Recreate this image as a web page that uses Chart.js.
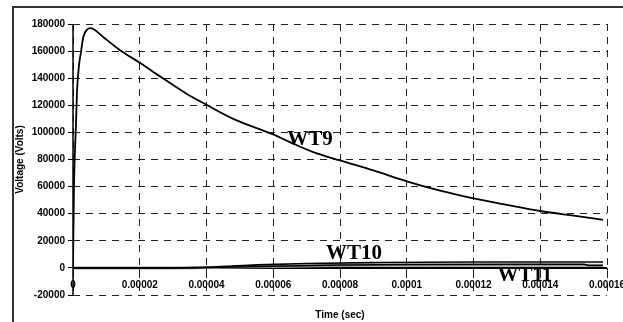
<!DOCTYPE html>
<html><head><meta charset="utf-8">
<script src="https://cdn.jsdelivr.net/npm/chart.js@4/dist/chart.umd.min.js"></script>
<style>html,body{margin:0;padding:0;background:#fff}canvas{display:block}</style>
</head><body>
<canvas id="c" width="623" height="322"></canvas>
<script>
// ---- data (time in seconds, voltage in volts) ----
const wt9Time  = [0, 0.0000003, 0.0000009, 0.0000012, 0.0000018, 0.0000024, 0.0000031, 0.0000043, 0.0000051, 0.0000063, 0.0000095, 0.0000141, 0.00002, 0.000026, 0.000034, 0.00004, 0.000048, 0.00006, 0.000065, 0.000072, 0.00008, 0.00009, 0.0001, 0.00011, 0.00012, 0.00013, 0.00014, 0.00015, 0.0001588];
const wt9Volts = [0, 60000, 106700, 130000, 149600, 159500, 170600, 176000, 177000, 176000, 169500, 160700, 151400, 141500, 128600, 120400, 110000, 98500, 92800, 85400, 79300, 71900, 63900, 57000, 51300, 46500, 42000, 38500, 35500];
const wt10Time  = [0, 0.000026, 0.000042, 0.000055, 0.00007, 0.000093, 0.00012, 0.0001588];
const wt10Volts = [0, 0, 700, 2200, 3300, 4000, 4400, 4400];
const wt11Time  = [0, 0.00003, 0.000045, 0.00006, 0.00008, 0.0001, 0.000153, 0.000155, 0.0001588];
const wt11Volts = [0, 0, 500, 1300, 2100, 2600, 2700, 1700, 1700];
const wt11bTime  = [0, 0.00003, 0.00005, 0.00007, 0.00009, 0.0001588];
const wt11bVolts = [0, 0, 600, 1400, 1900, 2000];
const xTickLabels = ['0', '0.00002', '0.00004', '0.00006', '0.00008', '0.0001', '0.00012', '0.00014', '0.00016'];
const yTickValues = [-20000, 0, 20000, 40000, 60000, 80000, 100000, 120000, 140000, 160000, 180000];
const curveLabels = ['WT9', 'WT10', 'WT11'];
const curveLabelTime = [0.000071, 0.0000842, 0.0001354];
const curveLabelVolts = [94800, 10700, -5600];

const pts = (xs, ys) => xs.map((x, i) => ({x: x, y: ys[i]}));
const SANS = '"Liberation Sans", Arial, sans-serif';

const framePlugin = {
  id: 'frame',
  beforeDraw(chart) {
    const ctx = chart.ctx;
    ctx.save();
    ctx.fillStyle = '#fff';
    ctx.fillRect(0, 0, chart.width, chart.height);
    ctx.strokeStyle = '#333';
    ctx.lineWidth = 2;
    ctx.beginPath();
    ctx.moveTo(13, chart.height);
    ctx.lineTo(13, 7);
    ctx.lineTo(chart.width, 7);
    ctx.stroke();
    ctx.restore();
  }
};
// solid axis lines (x = 0 and y = 0), drawn from the scales
const axisLinePlugin = {
  id: 'axisLines',
  beforeDatasetsDraw(chart) {
    const ctx = chart.ctx, xs = chart.scales.x, ys = chart.scales.y, a = chart.chartArea;
    const x0 = xs.getPixelForValue(0), y0 = ys.getPixelForValue(0);
    ctx.save();
    ctx.strokeStyle = '#000';
    ctx.setLineDash([]);
    ctx.lineWidth = 1.5;
    ctx.beginPath(); ctx.moveTo(x0, a.top); ctx.lineTo(x0, a.bottom); ctx.stroke();
    ctx.lineWidth = 2;
    ctx.beginPath(); ctx.moveTo(a.left, y0); ctx.lineTo(a.right, y0); ctx.stroke();
    ctx.restore();
  }
};
const labelPlugin = {
  id: 'curveLabels',
  afterDatasetsDraw(chart) {
    const ctx = chart.ctx, xs = chart.scales.x, ys = chart.scales.y;
    ctx.save();
    ctx.font = 'bold 21px "Liberation Serif", "Times New Roman", serif';
    ctx.fillStyle = '#000';
    ctx.textAlign = 'center';
    ctx.textBaseline = 'middle';
    curveLabels.forEach((t, i) => {
      ctx.fillText(t, xs.getPixelForValue(curveLabelTime[i]), ys.getPixelForValue(curveLabelVolts[i]));
    });
    ctx.restore();
  }
};

const common = {fill: false, pointRadius: 0, cubicInterpolationMode: 'monotone'};
new Chart(document.getElementById('c'), {
  type: 'line',
  data: {
    datasets: [
      Object.assign({label: 'WT9', data: pts(wt9Time, wt9Volts), borderColor: '#000', borderWidth: 1.8}, common),
      Object.assign({label: 'WT10', data: pts(wt10Time, wt10Volts), borderColor: '#000', borderWidth: 1.6}, common),
      Object.assign({label: 'WT11', data: pts(wt11Time, wt11Volts), borderColor: '#000', borderWidth: 1.5}, common),
      Object.assign({label: 'WT11 (grey)', data: pts(wt11bTime, wt11bVolts), borderColor: '#9a9a9a', borderWidth: 3}, common)
    ]
  },
  options: {
    responsive: false,
    devicePixelRatio: 1,
    animation: false,
    layout: {padding: {left: 13, top: 24, right: 16, bottom: 27}},
    plugins: {legend: {display: false}, tooltip: {enabled: false}},
    scales: {
      x: {
        type: 'linear',
        position: {y: 0},
        min: 0, max: 0.00016,
        afterFit(s) { s.paddingRight = 0; s.paddingLeft = 0; },
        ticks: {
          stepSize: 0.00002, autoSkip: false, maxRotation: 0, padding: 3,
          color: '#000', font: {family: SANS, size: 10, weight: 'bold'},
          callback: (v, i) => xTickLabels[i]
        },
        grid: {color: '#222', lineWidth: 1, tickLength: 8, tickColor: '#222', tickBorderDash: [7, 6]},
        border: {display: false, dash: [7, 6]},
        title: {display: true, text: 'Time (sec)', color: '#000', font: {family: SANS, size: 10, weight: 'bold'}, padding: {top: 15, bottom: 0}}
      },
      y: {
        type: 'linear',
        min: -20000, max: 180000,
        afterFit(s) { s.width = 60; },
        afterBuildTicks(s) { s.ticks = yTickValues.map(v => ({value: v})); },
        ticks: {
          padding: 3, color: '#000', font: {family: SANS, size: 10, weight: 'bold'},
          callback: v => String(v)
        },
        grid: {color: '#222', lineWidth: 1, tickLength: 5, tickColor: '#000', tickBorderDash: []},
        border: {display: false, dash: [7, 6]},
        title: {display: true, text: 'Voltage (Volts)', color: '#000', font: {family: SANS, size: 10, weight: 'bold'}, padding: {top: 1, bottom: 0}}
      }
    }
  },
  plugins: [framePlugin, axisLinePlugin, labelPlugin]
});
</script>
</body></html>
